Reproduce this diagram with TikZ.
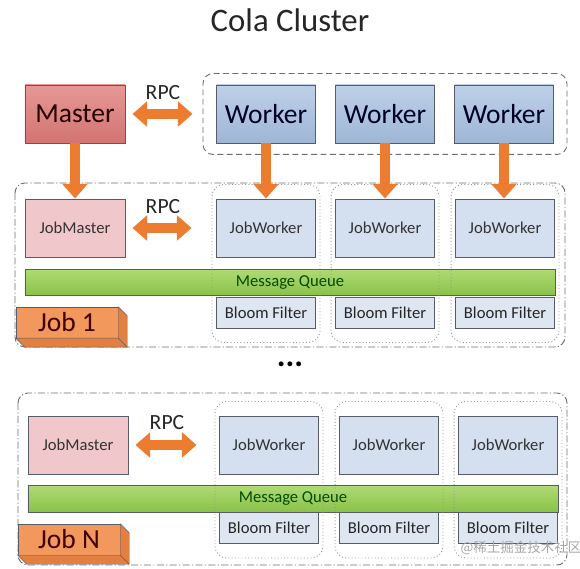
\documentclass[tikz,border=0pt]{standalone}
\usepackage{fontspec}
\setmainfont{Carlito}
\newfontfamily\cjkfont{Noto Sans CJK SC}
\usetikzlibrary{arrows.meta,positioning,calc,fit}
\definecolor{clborder}{RGB}{88,92,104}
\definecolor{clmastertop}{RGB}{230,152,150}
\definecolor{clmasterbot}{RGB}{210,116,114}
\definecolor{clworkertop}{RGB}{190,208,232}
\definecolor{clworkerbot}{RGB}{158,182,214}
\definecolor{cljobmaster}{RGB}{240,200,204}
\definecolor{cljobworker}{RGB}{212,223,239}
\definecolor{clbloom}{RGB}{222,230,242}
\definecolor{clqueuetop}{RGB}{176,218,116}
\definecolor{clqueuebot}{RGB}{136,194,72}
\definecolor{cljob}{RGB}{242,152,92}
\definecolor{cljobside}{RGB}{226,128,66}
\definecolor{clarrow}{RGB}{236,124,48}
\definecolor{clframe}{RGB}{110,110,110}
\definecolor{clgroup}{RGB}{150,150,150}
\tikzset{
  basebox/.style={draw=clborder, thick, inner sep=0pt, minimum height=1.74cm},
  masterbox/.style={basebox, minimum width=3cm, top color=clmastertop, bottom color=clmasterbot,
    text=black!85!red, font=\fontsize{23.5}{28}\selectfont},
  workerbox/.style={basebox, minimum width=2.97cm, top color=clworkertop, bottom color=clworkerbot,
    text=black!85!blue, font=\fontsize{23.5}{28}\selectfont},
  jobmasterbox/.style={basebox, minimum width=3cm, fill=cljobmaster, text=black!80,
    font=\fontsize{14.2}{17}\selectfont},
  jobworkerbox/.style={basebox, minimum width=2.97cm, fill=cljobworker, text=black!80,
    font=\fontsize{14.2}{17}\selectfont},
  bloombox/.style={basebox, minimum width=2.97cm, minimum height=0.93cm, fill=clbloom, text=black!85,
    font=\fontsize{14.2}{17}\selectfont},
  queuebar/.style={basebox, minimum width=15.9cm, minimum height=0.8cm, top color=clqueuetop,
    bottom color=clqueuebot, text=black!70!green, font=\fontsize{14.2}{17}\selectfont},
  jobtag/.style={draw=clborder, fill=cljob, inner sep=0pt, minimum width=3.06cm, minimum height=0.93cm,
    text=black!75!red, font=\fontsize{23.5}{28}\selectfont},
  jobside/.style={draw=clborder, fill=cljobside, line join=round},
  rpclabel/.style={font=\fontsize{18.5}{22}\selectfont, text=black!85},
  rpcarrow/.style={line width=8.5pt, draw=clarrow,
    {Triangle[width=21pt,length=12.5pt]}-{Triangle[width=21pt,length=12.5pt]}},
  downarrow/.style={line width=8.5pt, draw=clarrow, -{Triangle[width=21pt,length=12.5pt]}},
  workerframe/.style={draw=clframe, dashed, dash pattern=on 5pt off 3pt, thick, rounded corners=0.3cm,
    inner xsep=0.39cm, inner ysep=0.33cm},
  groupframe/.style={draw=clgroup, dotted, thick, rounded corners=0.35cm, inner xsep=0.12cm, inner ysep=0.42cm},
  jobframe/.style={draw=clframe, thick, dash pattern=on 6pt off 2pt on 1pt off 2pt, rounded corners=0.3cm},
}

\begin{document}
\begin{tikzpicture}[x=0.03cm,y=-0.03cm]
  \useasboundingbox (0,0) rectangle (580,569);

  \node[font=\fontsize{28}{32}\selectfont, text=black!85] (title) at (290,20) {Cola Cluster};

  % Cluster level
  \node[masterbox] (master) at (75,114) {Master};
  \node[workerbox] (w1) at (266,114) {Worker};
  \node[workerbox] (w2) at (385,114) {Worker};
  \node[workerbox] (w3) at (504,114) {Worker};
  \node[workerframe, fit=(w1)(w3)] (workers) {};
  \node[rpclabel] (rpc0) at (163,93) {RPC};

  % Job 1
  \draw[jobframe] (15,183) rectangle (565,347);
  \node[jobmasterbox] (jm1) at (75,228) {JobMaster};
  \node[jobworkerbox] (jw11) at (266,228) {JobWorker};
  \node[jobworkerbox] (jw12) at (385,228) {JobWorker};
  \node[jobworkerbox] (jw13) at (505,228) {JobWorker};
  \node[queuebar] (mq1) at (290,282.5) {Message Queue};
  \node[bloombox] (bf11) at (266,312.5) {Bloom Filter};
  \node[bloombox] (bf12) at (385,312.5) {Bloom Filter};
  \node[bloombox] (bf13) at (505,312.5) {Bloom Filter};
  \node[groupframe, fit=(jw11)(bf11)] (g11) {};
  \node[groupframe, fit=(jw12)(bf12)] (g12) {};
  \node[groupframe, fit=(jw13)(bf13)] (g13) {};
  \node[rpclabel] (rpc1) at (163,207) {RPC};
  \node[jobtag] (tag1) at (67,322.5) {Job 1};
  \draw[jobside] (tag1.north east) -- ++(9,9) -- ($(tag1.south east)+(9,9)$) -- ($(tag1.south west)+(9,9)$)
    -- (tag1.south west) -- (tag1.south east) -- cycle;
  \draw[jobside] (tag1.south east) -- ++(9,9);

  \node[font=\fontsize{28}{30}\selectfont\bfseries] (dots) at (290,364) {...};

  % Job N
  \draw[jobframe] (18,393) rectangle (567,565);
  \node[jobmasterbox] (jmN) at (78,445) {JobMaster};
  \node[jobworkerbox] (jwN1) at (269,445) {JobWorker};
  \node[jobworkerbox] (jwN2) at (389,445) {JobWorker};
  \node[jobworkerbox] (jwN3) at (508,445) {JobWorker};
  \node[queuebar] (mqN) at (293,499) {Message Queue};
  \node[bloombox] (bfN1) at (269,528) {Bloom Filter};
  \node[bloombox] (bfN2) at (389,528) {Bloom Filter};
  \node[bloombox] (bfN3) at (508,528) {Bloom Filter};
  \node[groupframe, fit=(jwN1)(bfN1)] (gN1) {};
  \node[groupframe, fit=(jwN2)(bfN2)] (gN2) {};
  \node[groupframe, fit=(jwN3)(bfN3)] (gN3) {};
  \node[rpclabel] (rpcN) at (167,423) {RPC};
  \node[jobtag] (tagN) at (69,539.5) {Job N};
  \draw[jobside] (tagN.north east) -- ++(9,9) -- ($(tagN.south east)+(9,9)$) -- ($(tagN.south west)+(9,9)$)
    -- (tagN.south west) -- (tagN.south east) -- cycle;
  \draw[jobside] (tagN.south east) -- ++(9,9);

  % Arrows
  \draw[rpcarrow, shorten <=0.21cm, shorten >=0.3cm] (master.east) -- (master.east -| workers.west);
  \draw[rpcarrow, shorten <=0.21cm, shorten >=0.6cm] (jm1.east) -- (jm1.east -| g11.west);
  \draw[rpcarrow, shorten <=0.21cm, shorten >=0.54cm] (jmN.east) -- (jmN.east -| gN1.west);
  \draw[downarrow] (master.south) -- (jm1.north);
  \draw[downarrow] (w1.south) -- (jw11.north -| w1.south);
  \draw[downarrow] (w2.south) -- (jw12.north -| w2.south);
  \draw[downarrow] (w3.south) -- (jw13.north -| w3.south);

  \node[font=\cjkfont\fontsize{11.5}{13}\selectfont, text=black!35] (mark) at (521,548) {@稀土掘金技术社区};
\end{tikzpicture}
\end{document}
